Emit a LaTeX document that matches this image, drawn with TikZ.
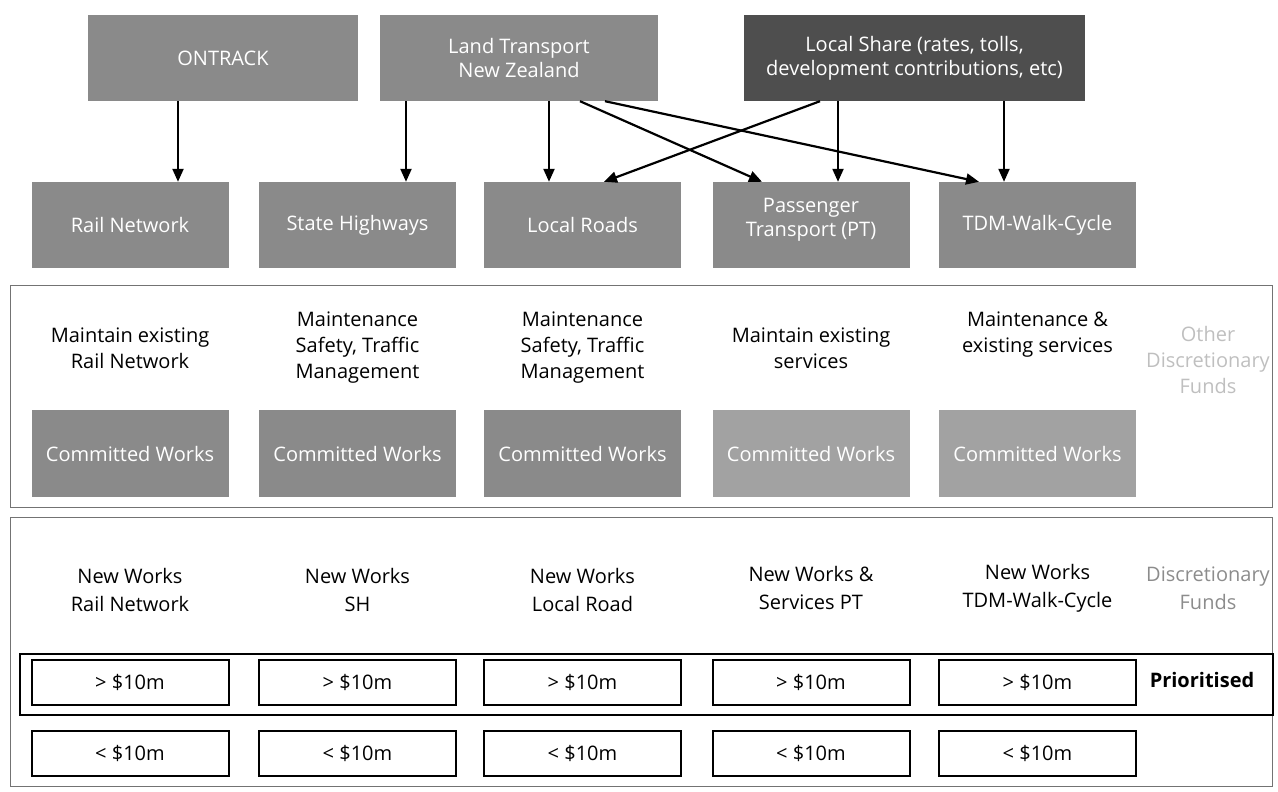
\documentclass[tikz,border=0pt]{standalone}
\usepackage{fontspec}
\setmainfont{Open Sans}
\usetikzlibrary{arrows.meta}
\definecolor{boxgray}{HTML}{8A8A8A}
\definecolor{darkgray}{HTML}{4E4E4E}
\definecolor{lightbox}{HTML}{A2A2A2}
\begin{document}
\begin{tikzpicture}[x=1pt,y=-1pt,
  every node/.style={font=\fontsize{20}{24}\selectfont, inner sep=0pt, align=center},
  gbox/.style={fill=boxgray, text=white, minimum width=197pt, minimum height=86pt},
  topbox/.style={fill=boxgray, text=white, minimum height=86pt},
  cbox/.style={fill=boxgray, text=white, minimum width=197pt, minimum height=87pt},
  vbox/.style={draw=black, line width=2pt, fill=white, minimum width=197pt, minimum height=45pt},
  band/.style={draw=black!55, line width=0.9pt, minimum width=1262pt, inner sep=0pt},
  mtext/.style={font=\fontsize{20}{26}\selectfont},
  ltext/.style={font=\fontsize{20}{28}\selectfont},
  arr/.style={draw=black, line width=2.2pt, -{Triangle[length=13pt,width=11pt]}}
]
\useasboundingbox (0,0) rectangle (1278,792);

% top row
\node[topbox, minimum width=270pt] (ontrack) at (223,58) {ONTRACK};
\node[topbox, minimum width=278pt] (ltnz) at (519,58) {Land Transport\\New Zealand};
\node[topbox, fill=darkgray, minimum width=341pt] (lshare) at (914.5,58) {Local Share (rates, tolls,\\development contributions, etc)};

% second row
\node[gbox] (rail) at (130,225) {Rail Network};
\node[gbox] (sh) at (357.5,225) {State Highways};
\node[gbox] (lr) at (582.5,225) {Local Roads};
\node[gbox] (pt) at (811,225) {};
\node[text=white] (ptlabel) at (811,220) {Passenger\\Transport (PT)};
\node[gbox] (tdm) at (1037.5,225) {TDM-Walk-Cycle};

% connectors
\draw[arr] ([xshift=-45pt]ontrack.south) -- ([xshift=48pt]rail.north);
\draw[arr] ([xshift=-113pt]ltnz.south) -- ([xshift=48.5pt]sh.north);
\draw[arr] ([xshift=30pt]ltnz.south) -- ([xshift=-33.5pt]lr.north);
\draw[arr] ([xshift=61pt]ltnz.south) -- ([xshift=-49pt]pt.north);
\draw[arr] ([xshift=86pt]ltnz.south) -- ([xshift=-58.5pt]tdm.north);
\draw[arr] ([xshift=-94.5pt]lshare.south) -- ([xshift=21.5pt]lr.north);
\draw[arr] ([xshift=-76.5pt]lshare.south) -- ([xshift=27pt]pt.north);
\draw[arr] ([xshift=89.5pt]lshare.south) -- ([xshift=-33.5pt]tdm.north);

% middle band
\node[band, minimum height=222pt] (band1) at (641,396) {};
\node[mtext] (m1) at (130,348) {Maintain existing\\Rail Network};
\node[mtext] (m2) at (357.5,348) {Maintenance\\Safety, Traffic\\Management};
\node[mtext] (m3) at (582.5,348) {Maintenance\\Safety, Traffic\\Management};
\node[mtext] (m4) at (811,348) {Maintain existing\\services};
\node[mtext] (m5) at (1037.5,335) {Maintenance \&\\existing services};
\node[mtext, text=black!25] (m6) at (1208,360) {Other\\Discretionary\\Funds};

\node[cbox] (c1) at (130,453.5) {Committed Works};
\node[cbox] (c2) at (357.5,453.5) {Committed Works};
\node[cbox] (c3) at (582.5,453.5) {Committed Works};
\node[cbox, fill=lightbox] (c4) at (811,453.5) {Committed Works};
\node[cbox, fill=lightbox] (c5) at (1037.5,453.5) {Committed Works};

% lower band
\node[band, minimum height=269pt] (band2) at (641,651.5) {};
\node[ltext] (n1) at (130,590) {New Works\\Rail Network};
\node[ltext] (n2) at (357.5,590) {New Works\\SH};
\node[ltext] (n3) at (582.5,590) {New Works\\Local Road};
\node[ltext] (n4) at (811,588) {New Works \&\\Services PT};
\node[ltext] (n5) at (1037.5,588) {New Works\\TDM-Walk-Cycle};
\node[ltext, text=black!45] (n6) at (1208,588) {Discretionary\\Funds};

\node[draw=black, line width=2.2pt, minimum width=1253pt, minimum height=61pt] (prio) at (646.5,684.5) {};
\node[vbox] (g1) at (130,682.5) {> \$10m};
\node[vbox] (g2) at (357.5,682.5) {> \$10m};
\node[vbox] (g3) at (582.5,682.5) {> \$10m};
\node[vbox] (g4) at (811,682.5) {> \$10m};
\node[vbox] (g5) at (1037.5,682.5) {> \$10m};
\node[font=\fontsize{20}{24}\selectfont\bfseries] (plabel) at (1202,680) {Prioritised};

\node[vbox] (s1) at (130,753) {< \$10m};
\node[vbox] (s2) at (357.5,753) {< \$10m};
\node[vbox] (s3) at (582.5,753) {< \$10m};
\node[vbox] (s4) at (811,753) {< \$10m};
\node[vbox] (s5) at (1037.5,753) {< \$10m};
\end{tikzpicture}
\end{document}
